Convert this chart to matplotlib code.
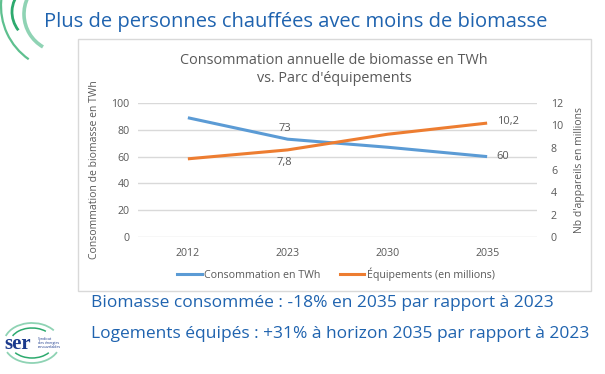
import matplotlib
matplotlib.use("Agg")
import matplotlib.pyplot as plt
from matplotlib.patches import Arc, Rectangle
from matplotlib.lines import Line2D

# ---- data ----
years = ["2012", "2023", "2030", "2035"]
conso_twh = [89, 73, 67, 60]
equip_millions = [7.0, 7.8, 9.2, 10.2]
left_ticks = [0, 20, 40, 60, 80, 100]
right_ticks = [0, 2, 4, 6, 8, 10, 12]

BLUE = "#5B9BD5"
ORANGE = "#ED7D31"
GRID = "#D9D9D9"
TXT = "#595959"
TITLE_BLUE = "#1F63AF"
FONT = ["Open Sans", "DejaVu Sans"]

plt.rcParams['font.family'] = FONT

W, H = 605, 374
fig = plt.figure(figsize=(W / 100, H / 100), dpi=100)
fig.patch.set_facecolor("white")

# overlay for decorations in pixel coordinates
deco = fig.add_axes([0, 0, 1, 1], zorder=0)
deco.set_xlim(0, W)
deco.set_ylim(H, 0)
deco.axis("off")

# chart frame
deco.add_patch(Rectangle((78, 39), 513, 252, fill=False, edgecolor=GRID, lw=1.0))

# top-left arcs
deco.add_patch(Arc((62, 14), 76, 76, theta1=120, theta2=235, color="#8FD3B4", lw=2.6))
deco.add_patch(Arc((50, 12), 76, 66, theta1=150, theta2=215, color="#2DAA6E", lw=2.0))
deco.add_patch(Arc((66, 6), 130, 130, theta1=125, theta2=245, color="#5EC08F", lw=1.6))

# main title
deco.text(44, 22, "Plus de personnes chauffées avec moins de biomasse",
          color=TITLE_BLUE, fontsize=14.5, va="center", ha="left")

# bottom texts
deco.text(91, 303, "Biomasse consommée : -18% en 2035 par rapport à 2023",
          color=TITLE_BLUE, fontsize=12.5, va="center", ha="left")
deco.text(91, 334, "Logements équipés : +31% à horizon 2035 par rapport à 2023",
          color=TITLE_BLUE, fontsize=12.5, va="center", ha="left")

# logo
for w, h, c, lw, t1, t2 in [(44, 30, "#2DAA6E", 1.1, 200, 320), (56, 40, "#8FD3B4", 1.3, 195, 330),
                             (44, 30, "#2DAA6E", 1.1, 30, 150), (56, 40, "#8FD3B4", 1.3, 20, 160)]:
    deco.add_patch(Arc((32, 343), w, h, theta1=t1, theta2=t2, color=c, lw=lw))
deco.text(4, 344, "ser", color="#1B3A8C", fontsize=15, fontweight="bold",
          family="Liberation Serif", va="center", ha="left")
deco.text(38, 343, "Syndicat\ndes énergies\nrenouvelables", color="#1B3A8C",
          fontsize=2.6, va="center", ha="left", linespacing=1.1)

# main axes
ax = fig.add_axes([138 / W, 1 - 237 / H, 399 / W, 134 / H], zorder=2)
ax.patch.set_alpha(0)
x = list(range(len(years)))
ax.plot(x, conso_twh, color=BLUE, lw=2.2, solid_capstyle="butt", label="Consommation en TWh")
ax.set_xlim(-0.5, 3.5)
ax.set_ylim(0, 100)
ax.set_yticks(left_ticks)
ax.set_xticks(x)
ax.set_xticklabels(years)
ax.grid(axis="y", color=GRID, lw=1.0)
ax.set_axisbelow(True)
for s in ax.spines.values():
    s.set_visible(False)
ax.tick_params(axis="both", length=0, colors=TXT, labelsize=7.7)
ax.tick_params(axis="y", pad=6)
ax.tick_params(axis="x", pad=8)
ax.set_ylabel("Consommation de biomasse en TWh", color=TXT, fontsize=7.5, labelpad=8)

ax2 = ax.twinx()
ax2.plot(x, equip_millions, color=ORANGE, lw=2.2, solid_capstyle="butt", label="Équipements (en millions)")
ax2.set_ylim(0, 12)
ax2.set_yticks(right_ticks)
for s in ax2.spines.values():
    s.set_visible(False)
ax2.tick_params(axis="y", length=0, colors=TXT, labelsize=7.7, pad=10)
ax2.set_ylabel("Nb d'appareils en millions", color=TXT, fontsize=7.5, labelpad=8)

# data labels
ax.annotate("73", (1, conso_twh[1]), xytext=(-2, 8), textcoords="offset points",
            ha="center", va="center", color=TXT, fontsize=8)
ax.annotate("60", (3, conso_twh[3]), xytext=(11, 0), textcoords="offset points",
            ha="center", va="center", color=TXT, fontsize=8)
ax2.annotate("7,8", (1, equip_millions[1]), xytext=(-2, -9), textcoords="offset points",
             ha="center", va="center", color=TXT, fontsize=8)
ax2.annotate("10,2", (3, equip_millions[3]), xytext=(15, 1), textcoords="offset points",
             ha="center", va="center", color=TXT, fontsize=8)

# chart title
fig.text(334 / W, 1 - 60 / H, "Consommation annuelle de biomasse en TWh",
         ha="center", va="center", color=TXT, fontsize=10.4)
fig.text(334 / W, 1 - 79 / H, "vs. Parc d'équipements",
         ha="center", va="center", color=TXT, fontsize=10.4)

# legend
handles = [Line2D([], [], color=BLUE, lw=2.2), Line2D([], [], color=ORANGE, lw=2.2)]
fig.legend(handles, ["Consommation en TWh", "Équipements (en millions)"],
           loc="center", bbox_to_anchor=(336 / W, 1 - 274 / H), ncol=2, frameon=False,
           fontsize=7.7, labelcolor=TXT, handlelength=2.3, handletextpad=0.2,
           columnspacing=1.8)

fig.savefig("out.png", dpi=100, facecolor="white")
